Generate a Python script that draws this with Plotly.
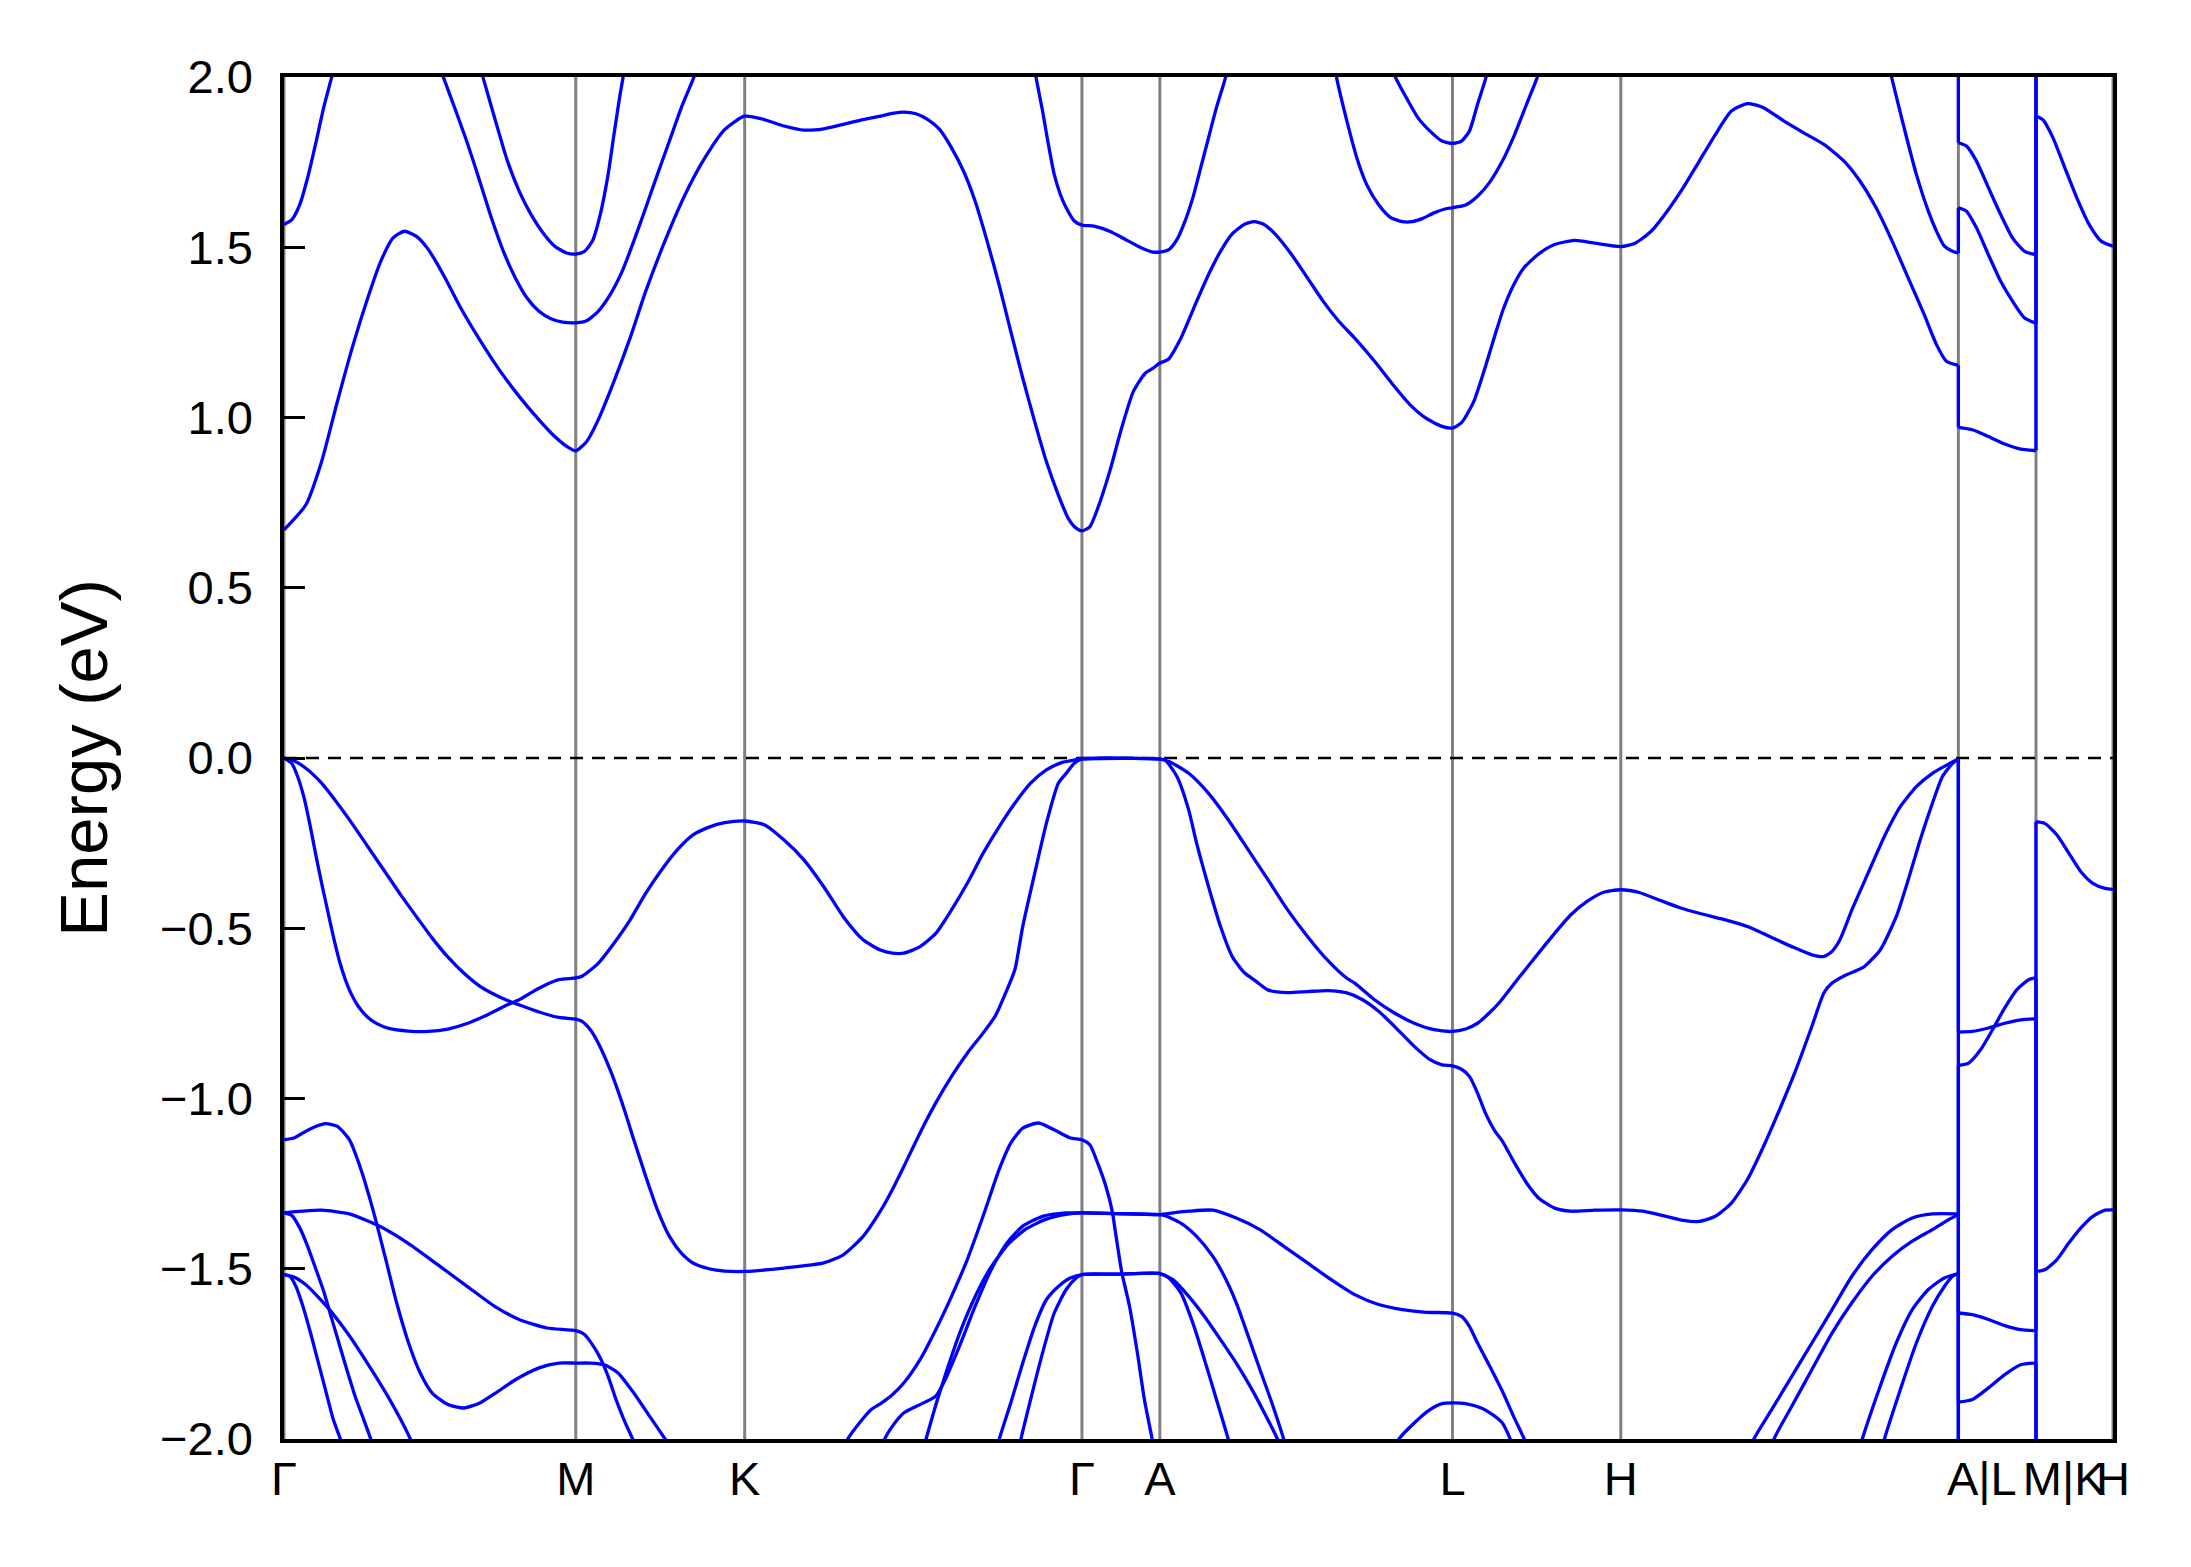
import plotly.graph_objects as go

# high-symmetry points along the path (k in path units) and their labels
KPOS = [0.0, 1.0, 1.579, 2.735, 3.002, 4.005, 4.582, 5.739, 6.005, 6.269]
KLABELS = ["Γ", "M", "K", "Γ", "A", "L", "H", "\u2002\u2002A|L", "\u2002\u2002\u2009M|K", "H"]
E_TICKS = [-2.0, -1.5, -1.0, -0.5, 0.0, 0.5, 1.0, 1.5, 2.0]
K_AL, K_MK = 5.739, 6.005
OUT_TOP, OUT_BOT = 2.03, -2.03   # band energies just outside the window

# ---- conduction bands (k, E) ----
cb1 = [(0, 0.670), (0.0745, 0.743), (0.129, 0.871), (0.183, 1.047), (0.237, 1.214), (0.291, 1.361),
       (0.332, 1.459), (0.373, 1.527), (0.413, 1.547), (0.454, 1.532), (0.495, 1.493), (0.549, 1.415),
       (0.603, 1.326), (0.671, 1.228), (0.738, 1.140), (0.806, 1.062), (0.874, 0.993), (0.928, 0.944),
       (0.969, 0.915), (1.0, 0.902), (1.037, 0.929), (1.077, 0.993), (1.131, 1.106), (1.186, 1.233),
       (1.240, 1.371), (1.308, 1.523), (1.375, 1.655), (1.443, 1.763), (1.511, 1.846), (1.579, 1.885),
       (1.646, 1.875), (1.714, 1.856), (1.782, 1.844), (1.850, 1.848), (1.917, 1.861), (1.985, 1.875),
       (2.044, 1.885), (2.085, 1.893), (2.125, 1.897), (2.166, 1.892), (2.207, 1.875), (2.247, 1.846),
       (2.288, 1.792), (2.329, 1.724), (2.369, 1.635), (2.410, 1.518), (2.451, 1.390), (2.491, 1.253),
       (2.532, 1.116), (2.573, 0.988), (2.613, 0.871), (2.654, 0.773), (2.688, 0.704), (2.715, 0.675),
       (2.735, 0.667), (2.762, 0.679), (2.789, 0.733), (2.830, 0.841), (2.871, 0.969), (2.911, 1.076),
       (2.952, 1.130), (2.979, 1.145), (3.002, 1.160), (3.030, 1.170), (3.074, 1.233), (3.128, 1.341),
       (3.169, 1.420), (3.210, 1.488), (3.250, 1.539), (3.291, 1.567), (3.325, 1.575), (3.359, 1.567),
       (3.399, 1.537), (3.454, 1.478), (3.508, 1.410), (3.562, 1.341), (3.616, 1.282), (3.670, 1.233),
       (3.738, 1.165), (3.806, 1.091), (3.860, 1.037), (3.914, 0.998), (3.969, 0.974), (4.005, 0.969),
       (4.036, 0.985), (4.077, 1.045), (4.118, 1.150), (4.150, 1.240), (4.180, 1.320), (4.215, 1.390),
       (4.250, 1.440), (4.300, 1.480), (4.355, 1.508), (4.424, 1.520), (4.493, 1.512), (4.582, 1.502),
       (4.631, 1.512), (4.686, 1.547), (4.741, 1.606), (4.796, 1.675), (4.851, 1.753), (4.906, 1.831),
       (4.961, 1.900), (5.016, 1.922), (5.071, 1.910), (5.140, 1.871), (5.209, 1.836), (5.278, 1.802),
       (5.347, 1.753), (5.402, 1.694), (5.457, 1.616), (5.512, 1.518), (5.567, 1.410), (5.622, 1.302),
       (5.664, 1.214), (5.698, 1.165), (5.739, 1.153)]
cb1_lm = [(5.739, 0.971), (5.787, 0.964), (5.842, 0.944), (5.898, 0.922), (5.953, 0.907), (6.005, 0.903)]
cb1_kh = [(6.005, 1.885), (6.028, 1.875), (6.063, 1.822), (6.104, 1.733), (6.145, 1.645), (6.187, 1.567),
          (6.228, 1.518), (6.269, 1.503)]
cb2a = [(0, 1.567), (0.027, 1.581), (0.054, 1.625), (0.081, 1.704), (0.108, 1.802), (0.136, 1.910),
        (0.163, 1.998), (0.19, 2.086)]
cb2b = [(0.522, 2.057), (0.549, 1.993), (0.589, 1.900), (0.630, 1.802), (0.671, 1.694), (0.711, 1.586),
        (0.752, 1.488), (0.793, 1.410), (0.833, 1.351), (0.874, 1.312), (0.915, 1.290), (0.955, 1.280),
        (1.0, 1.278), (1.037, 1.284), (1.077, 1.312), (1.118, 1.361), (1.159, 1.429), (1.199, 1.518),
        (1.240, 1.616), (1.280, 1.714), (1.321, 1.812), (1.362, 1.910), (1.402, 1.993), (1.43, 2.057)]
cb3 = [(0.664, 2.057), (0.684, 1.993), (0.725, 1.871), (0.766, 1.753), (0.806, 1.665), (0.847, 1.596),
       (0.888, 1.542), (0.928, 1.503), (0.969, 1.483), (1.0, 1.480), (1.030, 1.488), (1.057, 1.518),
       (1.084, 1.596), (1.111, 1.714), (1.131, 1.831), (1.152, 1.949), (1.161, 1.993), (1.172, 2.057)]
cb4 = [(2.566, 2.057), (2.579, 1.993), (2.600, 1.900), (2.620, 1.802), (2.640, 1.714), (2.661, 1.655),
       (2.681, 1.616), (2.708, 1.578), (2.735, 1.565), (2.776, 1.562), (2.830, 1.547), (2.884, 1.523),
       (2.939, 1.498), (2.979, 1.486), (3.002, 1.486), (3.033, 1.493), (3.061, 1.523), (3.088, 1.576),
       (3.115, 1.645), (3.142, 1.733), (3.169, 1.822), (3.196, 1.910), (3.223, 1.986), (3.237, 2.03)]
cb5 = [(3.595, 2.06), (3.609, 1.993), (3.643, 1.871), (3.677, 1.763), (3.711, 1.684), (3.752, 1.625),
       (3.792, 1.588), (3.833, 1.575), (3.867, 1.575), (3.901, 1.584), (3.942, 1.601), (3.982, 1.613),
       (4.005, 1.616), (4.050, 1.624), (4.091, 1.650), (4.131, 1.689), (4.176, 1.753), (4.218, 1.831),
       (4.259, 1.920), (4.293, 1.993), (4.307, 2.03)]
cb6 = [(3.792, 2.03), (3.813, 1.993), (3.847, 1.939), (3.887, 1.880), (3.928, 1.841), (3.969, 1.812),
       (4.005, 1.805), (4.036, 1.812), (4.063, 1.841), (4.091, 1.920), (4.118, 1.993), (4.129, 2.03)]
cb7 = [(5.502, 2.03), (5.512, 1.993), (5.553, 1.851), (5.595, 1.714), (5.636, 1.606), (5.664, 1.547),
       (5.691, 1.503), (5.719, 1.488), (5.739, 1.483)]
cb7_lm = [(5.739, 1.616), (5.767, 1.606), (5.801, 1.557), (5.842, 1.478), (5.884, 1.400), (5.925, 1.341),
          (5.966, 1.292), (6.005, 1.277)]
cb8_lm = [(5.739, 1.807), (5.767, 1.797), (5.801, 1.753), (5.842, 1.675), (5.884, 1.596), (5.925, 1.527),
          (5.966, 1.488), (6.005, 1.478)]

# ---- valence bands (k, E) ----
vb1 = [(0, 0.0), (0.034, -0.008), (0.075, -0.030), (0.129, -0.074), (0.183, -0.133), (0.237, -0.197),
       (0.291, -0.265), (0.346, -0.334), (0.400, -0.402), (0.454, -0.466), (0.508, -0.529), (0.562, -0.585),
       (0.617, -0.632), (0.671, -0.670), (0.711, -0.690), (0.766, -0.712), (0.806, -0.725), (0.874, -0.746),
       (0.942, -0.762), (1.0, -0.767), (1.023, -0.774), (1.050, -0.798), (1.077, -0.837), (1.118, -0.916),
       (1.159, -1.013), (1.199, -1.121), (1.240, -1.229), (1.280, -1.327), (1.321, -1.405), (1.362, -1.454),
       (1.402, -1.483), (1.457, -1.500), (1.511, -1.507), (1.579, -1.508), (1.714, -1.498), (1.850, -1.483),
       (1.917, -1.459), (1.985, -1.405), (2.044, -1.331), (2.085, -1.268), (2.125, -1.199), (2.180, -1.101),
       (2.234, -1.013), (2.288, -0.935), (2.342, -0.867), (2.396, -0.808), (2.437, -0.759), (2.478, -0.681),
       (2.505, -0.622), (2.532, -0.495), (2.573, -0.339), (2.613, -0.192), (2.654, -0.074), (2.681, -0.045),
       (2.708, -0.016), (2.735, -0.003), (3.002, -0.003), (3.020, -0.006), (3.061, -0.055), (3.101, -0.153),
       (3.128, -0.250), (3.169, -0.378), (3.210, -0.495), (3.250, -0.583), (3.291, -0.630), (3.332, -0.656),
       (3.372, -0.681), (3.440, -0.689), (3.508, -0.686), (3.576, -0.683), (3.643, -0.690), (3.697, -0.710),
       (3.752, -0.744), (3.806, -0.788), (3.874, -0.847), (3.928, -0.886), (3.969, -0.901), (4.005, -0.904),
       (4.036, -0.914), (4.063, -0.935), (4.091, -0.984), (4.118, -1.043), (4.150, -1.095), (4.176, -1.125),
       (4.218, -1.190), (4.259, -1.248), (4.300, -1.292), (4.355, -1.322), (4.410, -1.331), (4.493, -1.328),
       (4.582, -1.327), (4.658, -1.331), (4.727, -1.344), (4.796, -1.358), (4.851, -1.361), (4.906, -1.346),
       (4.961, -1.307), (5.016, -1.238), (5.071, -1.141), (5.126, -1.033), (5.182, -0.916), (5.237, -0.788),
       (5.278, -0.690), (5.306, -0.661), (5.347, -0.640), (5.388, -0.625), (5.416, -0.613), (5.471, -0.564),
       (5.526, -0.466), (5.567, -0.358), (5.608, -0.241), (5.650, -0.133), (5.684, -0.055), (5.719, -0.016),
       (5.739, -0.003)]
vb2 = [(0, 0.0), (0.027, -0.016), (0.047, -0.055), (0.068, -0.114), (0.088, -0.192), (0.108, -0.280),
       (0.129, -0.368), (0.149, -0.446), (0.169, -0.524), (0.190, -0.596), (0.210, -0.650), (0.230, -0.692),
       (0.255, -0.730), (0.285, -0.760), (0.318, -0.780), (0.359, -0.794), (0.427, -0.802), (0.495, -0.803),
       (0.562, -0.796), (0.630, -0.779), (0.698, -0.754), (0.766, -0.725), (0.806, -0.710), (0.874, -0.676),
       (0.942, -0.651), (1.0, -0.646), (1.023, -0.640), (1.077, -0.603), (1.131, -0.544), (1.186, -0.476),
       (1.240, -0.397), (1.294, -0.329), (1.348, -0.270), (1.402, -0.226), (1.457, -0.203), (1.511, -0.190),
       (1.579, -0.185), (1.646, -0.196), (1.714, -0.241), (1.782, -0.299), (1.850, -0.378), (1.917, -0.466),
       (1.985, -0.534), (2.044, -0.564), (2.085, -0.573), (2.125, -0.573), (2.180, -0.554), (2.234, -0.515),
       (2.288, -0.446), (2.342, -0.368), (2.396, -0.280), (2.451, -0.202), (2.505, -0.133), (2.559, -0.074),
       (2.613, -0.035), (2.667, -0.013), (2.708, -0.006), (2.735, -0.003), (3.002, -0.003), (3.033, -0.010),
       (3.101, -0.045), (3.169, -0.104), (3.237, -0.182), (3.305, -0.270), (3.373, -0.358), (3.440, -0.446),
       (3.508, -0.524), (3.576, -0.593), (3.643, -0.647), (3.670, -0.661), (3.738, -0.710), (3.806, -0.749),
       (3.874, -0.779), (3.942, -0.798), (4.005, -0.803), (4.050, -0.796), (4.091, -0.779), (4.131, -0.749),
       (4.169, -0.715), (4.231, -0.647), (4.300, -0.573), (4.355, -0.515), (4.410, -0.461), (4.465, -0.422),
       (4.521, -0.395), (4.582, -0.387), (4.645, -0.395), (4.713, -0.417), (4.782, -0.439), (4.851, -0.456),
       (4.934, -0.474), (5.016, -0.495), (5.099, -0.527), (5.168, -0.554), (5.237, -0.578), (5.278, -0.583),
       (5.306, -0.568), (5.333, -0.534), (5.374, -0.446), (5.429, -0.339), (5.485, -0.231), (5.540, -0.143),
       (5.595, -0.084), (5.650, -0.045), (5.705, -0.018), (5.739, -0.003)]
vb_lm_a = [(5.739, -0.805), (5.787, -0.803), (5.842, -0.793), (5.898, -0.779), (5.953, -0.769), (6.005, -0.766)]
vb_lm_b = [(5.739, -0.903), (5.774, -0.896), (5.815, -0.857), (5.856, -0.798), (5.898, -0.734), (5.939, -0.681),
           (5.980, -0.651), (6.005, -0.646)]
vb_lm_c = [(5.739, -1.630), (5.787, -1.635), (5.842, -1.649), (5.898, -1.667), (5.953, -1.679), (6.005, -1.682)]
vb_lm_d = [(5.739, -1.892), (5.787, -1.884), (5.842, -1.850), (5.898, -1.811), (5.953, -1.782), (6.005, -1.777)]
vb_kh_a = [(6.005, -0.187), (6.035, -0.192), (6.077, -0.226), (6.118, -0.280), (6.159, -0.334), (6.200, -0.368),
           (6.242, -0.383), (6.269, -0.386)]
vb_kh_b = [(6.005, -1.508), (6.035, -1.503), (6.077, -1.473), (6.118, -1.424), (6.159, -1.380), (6.200, -1.346),
           (6.242, -1.328), (6.269, -1.327)]
vb3 = [(0, -1.121), (0.034, -1.116), (0.088, -1.090), (0.142, -1.074), (0.183, -1.082), (0.224, -1.121),
       (0.264, -1.209), (0.305, -1.327), (0.346, -1.463), (0.386, -1.600), (0.427, -1.718), (0.467, -1.806),
       (0.508, -1.865), (0.562, -1.899), (0.617, -1.909), (0.671, -1.894), (0.725, -1.865), (0.793, -1.826),
       (0.874, -1.791), (0.942, -1.777), (1.0, -1.777), (1.050, -1.777), (1.098, -1.782), (1.145, -1.806),
       (1.199, -1.865), (1.253, -1.933), (1.308, -2.002), (1.33, -2.03)]
vb4 = [(0, -1.336), (0.061, -1.331), (0.129, -1.328), (0.224, -1.339), (0.318, -1.371), (0.427, -1.426),
       (0.522, -1.485), (0.630, -1.553), (0.725, -1.612), (0.806, -1.649), (0.901, -1.674), (1.0, -1.682),
       (1.030, -1.693), (1.057, -1.723), (1.084, -1.762), (1.111, -1.816), (1.138, -1.884), (1.165, -1.943),
       (1.196, -2.002), (1.21, -2.03)]
vb5 = [(0, -1.336), (0.027, -1.344), (0.054, -1.380), (0.081, -1.434), (0.108, -1.498), (0.136, -1.566),
       (0.163, -1.645), (0.190, -1.723), (0.217, -1.801), (0.244, -1.875), (0.271, -1.938), (0.298, -2.002),
       (0.306, -2.03)]
vb6 = [(0, -1.517), (0.020, -1.522), (0.041, -1.552), (0.061, -1.600), (0.088, -1.679), (0.115, -1.767),
       (0.142, -1.855), (0.169, -1.943), (0.194, -2.002), (0.202, -2.03)]
vb7 = [(0, -1.517), (0.034, -1.524), (0.075, -1.547), (0.115, -1.581), (0.156, -1.620), (0.196, -1.664),
       (0.237, -1.713), (0.278, -1.767), (0.318, -1.821), (0.359, -1.879), (0.400, -1.943), (0.434, -2.002),
       (0.445, -2.03)]
vb8 = [(1.92, -2.03), (1.931, -2.002), (1.975, -1.950), (2.012, -1.914), (2.050, -1.893), (2.085, -1.870),
       (2.125, -1.835), (2.180, -1.767), (2.234, -1.679), (2.288, -1.581), (2.342, -1.473), (2.396, -1.346),
       (2.451, -1.209), (2.491, -1.131), (2.532, -1.087), (2.586, -1.072), (2.640, -1.092), (2.695, -1.116),
       (2.735, -1.121), (2.762, -1.136), (2.789, -1.190), (2.817, -1.258), (2.840, -1.336), (2.846, -1.371),
       (2.867, -1.488), (2.873, -1.517), (2.898, -1.610), (2.925, -1.747), (2.949, -1.884), (2.976, -2.002),
       (2.981, -2.03)]
vb9 = [(2.05, -2.03), (2.058, -2.002), (2.085, -1.963), (2.125, -1.923), (2.180, -1.899), (2.234, -1.874),
       (2.261, -1.835), (2.315, -1.728), (2.369, -1.610), (2.424, -1.503), (2.478, -1.424), (2.532, -1.375),
       (2.600, -1.346), (2.681, -1.336), (2.735, -1.336), (2.850, -1.338), (3.002, -1.341), (3.047, -1.336),
       (3.101, -1.331), (3.183, -1.328), (3.264, -1.351), (3.345, -1.385), (3.427, -1.434), (3.508, -1.483),
       (3.589, -1.532), (3.670, -1.576), (3.752, -1.605), (3.833, -1.620), (3.914, -1.628), (4.005, -1.630),
       (4.036, -1.640), (4.063, -1.669), (4.091, -1.718), (4.135, -1.790), (4.176, -1.860), (4.218, -1.940),
       (4.252, -2.002), (4.262, -2.03)]
vb10 = [(2.19, -2.03), (2.200, -2.002), (2.234, -1.900), (2.275, -1.790), (2.320, -1.680), (2.370, -1.580),
        (2.420, -1.500), (2.480, -1.430), (2.540, -1.385), (2.610, -1.355), (2.680, -1.340), (2.735, -1.336),
        (2.850, -1.338), (3.002, -1.341), (3.020, -1.344), (3.074, -1.366), (3.128, -1.405), (3.183, -1.463),
        (3.223, -1.522), (3.264, -1.600), (3.305, -1.698), (3.345, -1.796), (3.386, -1.894), (3.427, -2.002),
        (3.435, -2.03)]
vb11 = [(2.445, -2.03), (2.451, -2.002), (2.491, -1.894), (2.532, -1.777), (2.573, -1.669), (2.613, -1.591),
        (2.654, -1.552), (2.695, -1.527), (2.735, -1.517), (2.850, -1.516), (3.002, -1.514), (3.047, -1.532),
        (3.101, -1.581), (3.155, -1.640), (3.210, -1.708), (3.264, -1.777), (3.318, -1.855), (3.372, -1.943),
        (3.406, -2.002), (3.415, -2.03)]
vb12 = [(2.518, -2.03), (2.525, -2.002), (2.559, -1.884), (2.600, -1.747), (2.640, -1.630), (2.681, -1.561),
        (2.715, -1.527), (2.735, -1.517), (2.850, -1.516), (3.002, -1.514), (3.033, -1.527), (3.074, -1.571),
        (3.115, -1.659), (3.155, -1.767), (3.196, -1.884), (3.237, -2.002), (3.245, -2.03)]
vb13 = [(3.81, -2.03), (3.820, -2.002), (3.874, -1.953), (3.928, -1.914), (3.969, -1.896), (4.005, -1.894),
        (4.050, -1.896), (4.104, -1.909), (4.145, -1.930), (4.176, -1.953), (4.204, -2.002), (4.215, -2.03)]
vb_p = [(5.03, -2.03), (5.037, -2.002), (5.099, -1.914), (5.168, -1.816), (5.237, -1.718), (5.306, -1.620),
        (5.374, -1.522), (5.443, -1.444), (5.512, -1.385), (5.581, -1.351), (5.650, -1.339), (5.739, -1.339)]
vb_q = [(5.10, -2.03), (5.106, -2.002), (5.168, -1.904), (5.237, -1.796), (5.306, -1.689), (5.374, -1.600),
        (5.443, -1.522), (5.512, -1.463), (5.581, -1.419), (5.650, -1.385), (5.705, -1.356), (5.739, -1.341)]
vb_r = [(5.40, -2.03), (5.409, -2.002), (5.471, -1.845), (5.526, -1.718), (5.581, -1.620), (5.636, -1.561),
        (5.691, -1.527), (5.739, -1.514)]
vb_s = [(5.48, -2.03), (5.485, -2.002), (5.540, -1.855), (5.595, -1.718), (5.650, -1.610), (5.691, -1.552),
        (5.719, -1.522), (5.739, -1.514)]

bands = [cb1, cb1_lm, cb1_kh, cb2a, cb2b, cb3, cb4, cb5, cb6, cb7, cb7_lm, cb8_lm,
         vb1, vb2, vb_lm_a, vb_lm_b, vb_lm_c, vb_lm_d, vb_kh_a, vb_kh_b,
         vb3, vb4, vb5, vb6, vb7, vb8, vb9, vb10, vb11, vb12, vb13, vb_p, vb_q, vb_r, vb_s]

# vertical connections where the path is discontinuous (A|L and M|K)
jumps = [
    (cb1[-1], cb1_lm[0]), (cb7[-1], cb7_lm[0]), ((K_AL, OUT_TOP), cb8_lm[0]),
    (vb2[-1], vb_lm_a[0]), (vb1[-1], vb_lm_d[0]), (vb_p[-1], vb_lm_b[0]), (vb_q[-1], vb_lm_c[0]),
    (vb_r[-1], (K_AL, OUT_BOT)), (vb_s[-1], (K_AL, OUT_BOT)),
    (cb1_lm[-1], cb1_kh[0]), (cb7_lm[-1], (K_MK, OUT_TOP)), (cb8_lm[-1], (K_MK, OUT_TOP)),
    (vb_lm_c[-1], vb_kh_a[0]), (vb_lm_b[-1], vb_kh_b[0]),
    (vb_lm_a[-1], (K_MK, OUT_BOT)), (vb_lm_d[-1], (K_MK, OUT_BOT)),
]

BLUE = "#0000ff"
fig = go.Figure()

for b in bands:
    fig.add_trace(go.Scatter(
        x=[p[0] for p in b], y=[p[1] for p in b], mode="lines",
        line=dict(color=BLUE, width=3.3, shape="spline", smoothing=0.6),
        hoverinfo="skip", showlegend=False))

for a, b in jumps:
    fig.add_trace(go.Scatter(
        x=[a[0], b[0]], y=[a[1], b[1]], mode="lines",
        line=dict(color=BLUE, width=3.3),
        hoverinfo="skip", showlegend=False))

# gray lines at the high-symmetry points, dashed Fermi level
for k in KPOS:
    fig.add_shape(type="line", xref="x", yref="y", x0=k, x1=k, y0=-2, y1=2,
                  line=dict(color="#808080", width=3), layer="below")
fig.add_shape(type="line", xref="x", yref="y", x0=KPOS[0], x1=KPOS[-1], y0=0, y1=0,
              line=dict(color="black", width=2.6, dash="13px,9px"), layer="below")

# the page body adds an 8px offset, so margins are shifted to keep the box in place
font = "Liberation Sans, Arial, sans-serif"
fig.update_layout(
    width=2191, height=1567,
    margin=dict(l=276, r=86, t=69, b=136),
    paper_bgcolor="white", plot_bgcolor="white",
    font=dict(family=font, size=47, color="black"),
    xaxis=dict(range=[KPOS[0], KPOS[-1]], tickvals=KPOS, ticktext=KLABELS, ticks="",
               tickangle=0, automargin=False,
               showgrid=False, zeroline=False, showline=True, mirror=True,
               linecolor="black", linewidth=3.5, ticklabelstandoff=-4,
               tickfont=dict(family=font, size=47, color="black")),
    yaxis=dict(range=[-2, 2], tickvals=E_TICKS, tickformat=".1f", ticks="inside",
               ticklen=21, tickwidth=3.3, tickcolor="black", automargin=False,
               showgrid=False, zeroline=False, showline=True, mirror=True,
               linecolor="black", linewidth=3.5, ticklabelstandoff=18,
               tickfont=dict(family=font, size=47, color="black")),
    annotations=[dict(text="Energy (eV)", textangle=-90, xref="paper", yref="paper",
                      x=-0.1101, y=0.5, xanchor="center", yanchor="middle", showarrow=False,
                      font=dict(family=font, size=67, color="black"))],
)

fig.write_html("out.html")
